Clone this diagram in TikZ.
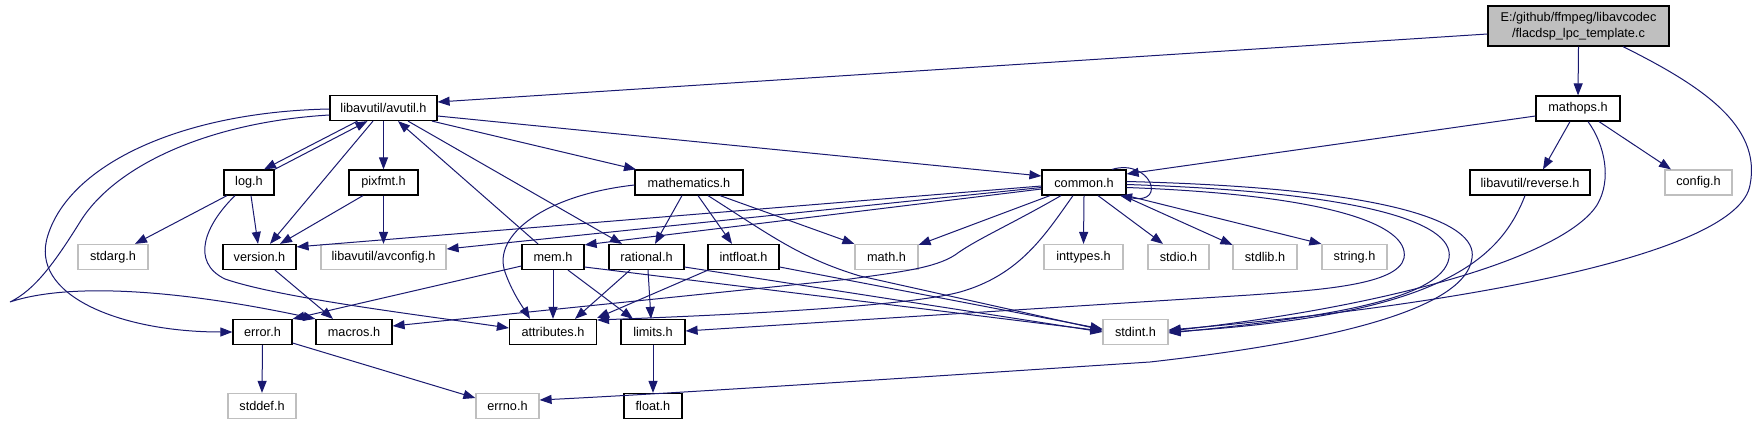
\documentclass[tikz,border=0pt]{standalone}
\usepackage{fontspec}
\setmainfont{Liberation Sans}
\usetikzlibrary{arrows.meta}
\definecolor{edgec}{HTML}{191970}
\definecolor{gline}{HTML}{BFBFBF}
\definecolor{gfill}{HTML}{BFBFBF}
\newcommand{\doxfont}{\fontsize{12.7}{15.5}\selectfont}
\begin{document}
\begin{tikzpicture}[x=1pt,y=-1pt,
  nb/.style={draw=black, line width=1.2pt, fill=white, minimum height=25pt, inner sep=0pt, font=\doxfont},
  ng/.style={nb, draw=gline},
  e/.style={draw=edgec, line width=1pt, -{Triangle[length=12pt,width=9pt]}}]
\useasboundingbox[fill=white] (0,0) rectangle (1760,425);
% nodes
\node[nb,fill=gfill,minimum width=181pt,minimum height=40pt,align=center] (flac) at (1578.5,26) {E:/github/ffmpeg/libavcodec\\/flacdsp\_lpc\_template.c};
\node[nb,minimum width=84pt] (mathops) at (1578,108.5) {mathops.h};
\node[nb,minimum width=107pt] (avutil) at (383.5,108) {libavutil/avutil.h};
\node[nb,minimum width=50pt] (log) at (249,182.5) {log.h};
\node[nb,minimum width=69pt] (pixfmt) at (383.5,182.5) {pixfmt.h};
\node[nb,minimum width=108pt] (mathematics) at (689,182.5) {mathematics.h};
\node[nb,minimum width=84pt] (common) at (1084,182.5) {common.h};
\node[nb,minimum width=120pt] (reverse) at (1530,182.5) {libavutil/reverse.h};
\node[ng,minimum width=67pt] (config) at (1698.5,182.5) {config.h};
\node[ng,minimum width=70pt] (stdarg) at (113,257) {stdarg.h};
\node[nb,minimum width=73pt] (version) at (259.5,257) {version.h};
\node[ng,minimum width=125pt] (avconfig) at (383.5,257) {libavutil/avconfig.h};
\node[nb,minimum width=62pt] (mem) at (553,257) {mem.h};
\node[nb,minimum width=75pt] (rational) at (646.5,257) {rational.h};
\node[nb,minimum width=71pt] (intfloat) at (743.5,257) {intfloat.h};
\node[ng,minimum width=63pt] (math) at (886.5,257) {math.h};
\node[ng,minimum width=79pt] (inttypes) at (1083.5,257) {inttypes.h};
\node[ng,minimum width=61pt] (stdio) at (1178.5,257) {stdio.h};
\node[ng,minimum width=64pt] (stdlib) at (1265,257) {stdlib.h};
\node[ng,minimum width=65pt] (string) at (1354.5,257) {string.h};
\node[nb,minimum width=59pt] (error) at (262.5,332) {error.h};
\node[nb,minimum width=76pt] (macros) at (354,332) {macros.h};
\node[nb,minimum width=87pt] (attributes) at (553,332) {attributes.h};
\node[nb,minimum width=64pt] (limits) at (653,332) {limits.h};
\node[ng,minimum width=65pt] (stdint) at (1135.5,332) {stdint.h};
\node[ng,minimum width=68pt] (stddef) at (262,406) {stddef.h};
\node[ng,minimum width=63pt] (errno) at (507.5,406) {errno.h};
\node[nb,minimum width=58pt] (float) at (653,406) {float.h};
% edges from flac
\draw[e] ([shift={(0,8)}]flac.west) -- ([shift={(0,-6)}]avutil.east);
\draw[e] (flac.south) -- (mathops.north);
\draw[e] ([shift={(44.5,0)}]flac.south) .. controls (1700,85) and (1762,125) .. (1750,185) .. controls (1738,255) and (1460,305) .. ([shift={(0,-2)}]stdint.east);
% mathops
\draw[e] ([shift={(0,7.5)}]mathops.west) -- ([shift={(0,-8.5)}]common.east);
\draw[e] ([shift={(-8,0)}]mathops.south) -- ([shift={(13,0)}]reverse.north);
\draw[e] ([shift={(21,0)}]mathops.south) -- ([shift={(-27.5,0)}]config.north);
\draw[e] ([shift={(10,0)}]mathops.south) .. controls (1605,145) and (1612,180) .. (1597,205) .. controls (1565,255) and (1400,305) .. ([shift={(0,-1)}]stdint.east);
\draw[e] ([shift={(-5,0)}]reverse.south) .. controls (1500,260) and (1440,315) .. (stdint.east);
% avutil
\draw[e] ([shift={(-26,0)}]avutil.south) -- ([shift={(15,0)}]log.north);
\draw[e] (log.north east) -- ([shift={(-16,0)}]avutil.south);
\draw[e] (avutil.south) -- (pixfmt.north);
\draw[e] ([shift={(-10.5,0)}]avutil.south) -- ([shift={(10.5,0)}]version.north);
\draw[e] ([shift={(48.5,0)}]avutil.south) -- ([shift={(-53,0)}]mathematics.north);
\draw[e] ([shift={(0,8)}]avutil.east) -- ([shift={(0,-6.5)}]common.west);
\draw[e] ([shift={(24.5,0)}]avutil.south) -- ([shift={(-24.5,0)}]rational.north);
\draw[e] ([shift={(-15,0)}]mem.north) -- ([shift={(14.5,0)}]avutil.south);
\draw[e] ([shift={(0,1)}]avutil.west) .. controls (180,112) and (70,165) .. (48,235) .. controls (28,295) and (120,332) .. (error.west);
\draw[e] ([shift={(0,7)}]avutil.west) .. controls (210,122) and (115,165) .. (80,222) .. controls (55,262) and (35,290) .. (10,302) .. controls (70,282) and (180,290) .. (macros.north west);
% log, pixfmt, version
\draw[e] ([shift={(-22,0)}]log.south) -- ([shift={(22,0)}]stdarg.north);
\draw[e] ([shift={(2,0)}]log.south) -- ([shift={(-1.5,0)}]version.north);
\draw[e] ([shift={(-14,0)}]log.south) .. controls (205,225) and (190,262) .. (225,279) .. controls (280,298) and (420,315) .. ([shift={(0,-4)}]attributes.west);
\draw[e] ([shift={(-20.5,0)}]pixfmt.south) -- ([shift={(20.5,0)}]version.north);
\draw[e] (pixfmt.south) -- (avconfig.north);
\draw[e] ([shift={(15.5,0)}]version.south) -- ([shift={(-21,0)}]macros.north);
% common
\draw[e] ([shift={(0,3.5)}]common.west) -- ([shift={(0,3)}]version.north east);
\draw[e] ([shift={(0,5)}]common.west) -- ([shift={(0,-8)}]avconfig.east);
\draw[e] ([shift={(0,6.5)}]common.west) -- ([shift={(0,1)}]mem.north east);
\draw[e] ([shift={(-34,0)}]common.south) -- ([shift={(0,1)}]math.north east);
\draw[e] (common.south) -- (inttypes.north);
\draw[e] ([shift={(14,0)}]common.south) -- ([shift={(-15.5,0)}]stdio.north);
\draw[e] ([shift={(39,0)}]common.south) -- ([shift={(0,1)}]stdlib.north west);
\draw[e] (common.south east) -- (string.north west);
\draw[e] ([shift={(28,0)}]common.north) .. controls (1150,158) and (1168,205) .. ([shift={(36,0)}]common.south);
\draw[e] ([shift={(-23,0)}]common.south) .. controls (1010,225) and (975,240) .. (955,255) .. controls (935,268) and (900,272) .. (850,279) -- ([shift={(0,-6)}]macros.east);
\draw[e] ([shift={(-11,0)}]common.south) .. controls (1045,235) and (1020,275) .. (960,292) .. controls (900,308) and (700,316) .. ([shift={(0,-12)}]attributes.east);
\draw[e] ([shift={(0,5)}]common.east) .. controls (1330,195) and (1410,225) .. (1404,258) .. controls (1398,285) and (1320,290) .. (1250,295) -- ([shift={(0,-1)}]limits.east);
\draw[e] ([shift={(0,2)}]common.east) .. controls (1360,192) and (1455,222) .. (1449,258) .. controls (1442,300) and (1320,318) .. ([shift={(0,1)}]stdint.east);
\draw[e] ([shift={(0,-1)}]common.east) .. controls (1390,188) and (1478,222) .. (1472,258) .. controls (1465,315) and (1300,345) .. (1150,362) .. controls (950,375) and (700,392) .. ([shift={(0,-6)}]errno.east);
% mathematics
\draw[e] ([shift={(-7,0)}]mathematics.south) -- ([shift={(8.5,0)}]rational.north);
\draw[e] ([shift={(9,0)}]mathematics.south) -- ([shift={(-11.5,0)}]intfloat.north);
\draw[e] ([shift={(31,0)}]mathematics.south) -- (math.north west);
\draw[e] ([shift={(19,0)}]mathematics.south) .. controls (770,235) and (800,258) .. (860,276) -- ([shift={(0,-2)}]stdint.west);
\draw[e] ([shift={(0,2.5)}]mathematics.west) .. controls (545,195) and (492,235) .. (505,272) .. controls (512,292) and (522,306) .. ([shift={(-23,0)}]attributes.north);
% mem
\draw[e] ([shift={(0,9)}]mem.west) -- (error.north east);
\draw[e] (mem.south) -- (attributes.north);
\draw[e] ([shift={(15,0)}]mem.south) -- ([shift={(-20,0)}]limits.north);
\draw[e] ([shift={(0,10)}]mem.east) -- ([shift={(0,-1)}]stdint.west);
% rational, intfloat
\draw[e] ([shift={(-16.5,0)}]rational.south) -- ([shift={(22,0)}]attributes.north);
\draw[e] ([shift={(1.5,0)}]rational.south) -- ([shift={(-2,0)}]limits.north);
\draw[e] ([shift={(0,10)}]rational.east) -- (stdint.west);
\draw[e] ([shift={(-35.5,0)}]intfloat.south) -- ([shift={(0,-14)}]attributes.east);
\draw[e] ([shift={(0,10)}]intfloat.east) -- ([shift={(0,-3)}]stdint.west);
% error, limits
\draw[e] (error.south) -- (stddef.north);
\draw[e] ([shift={(0,11)}]error.east) -- ([shift={(0,-8)}]errno.west);
\draw[e] (limits.south) -- (float.north);
\end{tikzpicture}
\end{document}
